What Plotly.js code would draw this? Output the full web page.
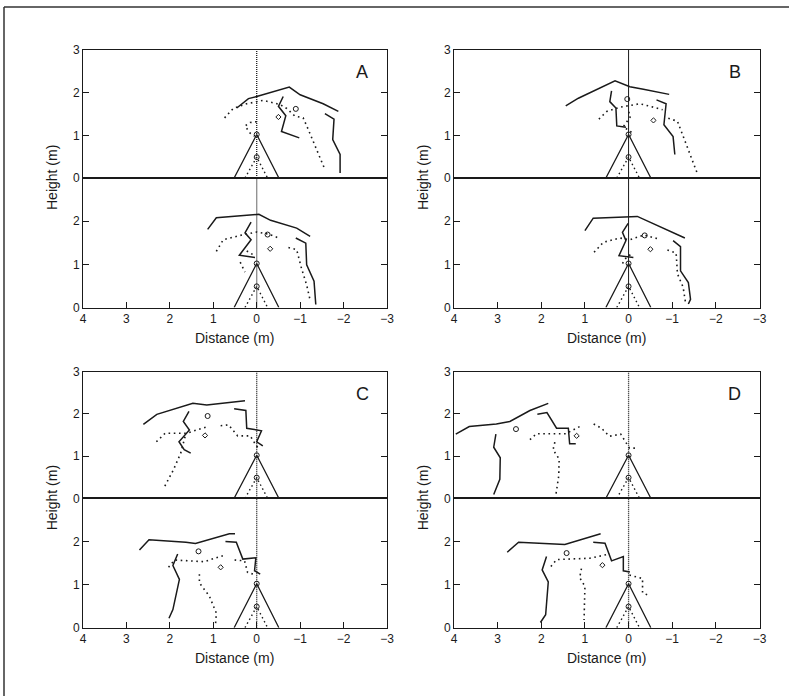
<!DOCTYPE html>
<html>
<head>
<meta charset="utf-8">
<script src="https://cdn.plot.ly/plotly-3.0.1.min.js"></script>
<style>html,body{margin:0;padding:0;background:#fff;}#chart{width:789px;height:696px;}</style>
</head>
<body>
<div id="chart"></div>
<script>
// ---------- data ----------
const xTickVals = [4, 3, 2, 1, 0, -1, -2, -3];
const xTickText = ['4', '3', '2', '1', '0', '\u22121', '\u22122', '\u22123'];
const yTickValsTop = [0, 1, 2, 3];
const yTickValsBottom = [0, 1, 2];
const panelLetters = ['A', 'B', 'C', 'D'];

// body outline (solid triangle) and inner dotted triangle, head markers
const triangleX = [0.52, 0, -0.51];
const triangleY = [0, 1.02, 0];
const innerX = [0.27, 0, -0.25];
const innerY = [0, 0.49, 0];
const headX = [0, 0];
const headY = [0.49, 1.02];
const centreX = [0, 0];
const centreY = [0, 3];

// each curve: [xs, ys]
const A1_solid = [
  [[0.46, 0.19, 0, -0.75, -1.0, -1.53, -1.88], [1.64, 1.86, 1.91, 2.13, 1.95, 1.74, 1.56]],
  [[-1.57, -1.78, -1.75, -1.92, -1.92], [1.51, 1.38, 0.90, 0.55, 0.12]],
  [[-0.61, -0.50, -0.67, -0.57, -0.98], [1.91, 1.68, 1.46, 1.09, 0.94]]
];
const A1_dotted = [
  [[0.74, 0.54, 0.23, -0.15, -0.54, -0.69, -0.88, -1.07, -1.19, -1.38, -1.57], [1.41, 1.63, 1.74, 1.82, 1.72, 1.63, 1.45, 1.41, 1.13, 0.66, 0.20]],
  [[0.0, 0.15, 0.27, 0.15, 0.05], [1.32, 1.30, 1.22, 1.05, 0.98]]
];
const A1_marks = [[-0.90, 1.62], [-0.50, 1.43]];

const A2_solid = [
  [[1.13, 0.93, -0.05, -0.32, -0.92, -1.23], [1.81, 2.08, 2.16, 2.02, 1.84, 1.65]],
  [[-0.90, -1.13, -1.15, -1.32, -1.36], [1.61, 1.49, 0.99, 0.61, 0.07]],
  [[0.13, 0.27, 0.13, 0.40, 0.04], [1.98, 1.73, 1.57, 1.21, 1.16]]
];
const A2_dotted = [
  [[0.93, 0.77, 0.38, 0, -0.27, -0.48], [1.30, 1.57, 1.67, 1.75, 1.70, 1.62]],
  [[-0.73, -0.92, -1.03, -1.15, -1.23], [1.39, 1.34, 0.91, 0.52, 0.17]],
  [[0.23, 0.08], [1.31, 1.22]],
  [[0.38, 0.27], [1.05, 0.82]]
];
const A2_marks = [[-0.25, 1.69], [-0.31, 1.36]];

const B1_solid = [
  [[1.44, 1.15, 0.31, -0.03, -0.34, -0.93], [1.69, 1.87, 2.28, 2.14, 2.08, 1.96]],
  [[0.39, 0.43, 0.29, 0.27, 0.06], [2.04, 1.79, 1.64, 1.22, 1.19]],
  [[-0.64, -0.86, -0.81, -1.02, -1.06], [1.83, 1.74, 1.25, 0.97, 0.55]]
];
const B1_dotted = [
  [[0.68, 0.50, 0.20, -0.26, -0.57, -0.78], [1.38, 1.56, 1.66, 1.74, 1.66, 1.60]],
  [[-0.91, -1.12, -1.31, -1.57], [1.40, 1.33, 0.82, 0.12]],
  [[0.0, -0.05, 0.12, 0.0, -0.10], [1.55, 1.45, 1.20, 1.12, 1.05]]
];
const B1_marks = [[0.03, 1.85], [-0.57, 1.35]];

const B2_solid = [
  [[1.0, 0.81, -0.2, -1.29], [1.78, 2.07, 2.11, 1.61]],
  [[-1.02, -1.19, -1.19, -1.37, -1.42, -1.37], [1.55, 1.41, 0.85, 0.58, 0.19, 0.08]],
  [[0.01, 0.14, 0.06, 0.22, -0.11], [1.95, 1.74, 1.55, 1.20, 1.16]]
];
const B2_dotted = [
  [[0.79, 0.58, 0.2, -0.03, -0.35, -0.68], [1.28, 1.51, 1.61, 1.57, 1.68, 1.59]],
  [[-0.89, -1.09, -1.12, -1.25, -1.31], [1.33, 1.26, 0.78, 0.47, 0.08]],
  [[0.14, 0.05, -0.07], [1.02, 1.16, 1.24]]
];
const B2_marks = [[-0.37, 1.67], [-0.50, 1.35]];

const C1_solid = [
  [[2.61, 2.30, 1.47, 1.15, 0.27], [1.75, 1.99, 2.25, 2.21, 2.31]],
  [[1.56, 1.69, 1.55, 1.79, 1.67, 1.52], [2.06, 1.82, 1.62, 1.34, 1.15, 1.07]],
  [[0.52, 0.25, 0.23, -0.11, 0, -0.14], [2.12, 2.08, 1.66, 1.60, 1.34, 1.24]]
];
const C1_dotted = [
  [[2.31, 2.11, 1.62, 1.13], [1.34, 1.54, 1.54, 1.70]],
  [[1.65, 1.75, 1.92, 2.13], [1.46, 1.07, 0.67, 0.26]],
  [[0.83, 0.65, 0.44, 0.15, 0, -0.08], [1.72, 1.74, 1.48, 1.48, 1.23, 1.19]]
];
const C1_marks = [[1.13, 1.95], [1.19, 1.49]];

const C2_solid = [
  [[2.70, 2.48, 1.63, 1.41, 0.63, 0.50], [1.80, 2.04, 1.98, 1.95, 2.18, 2.18]],
  [[1.82, 1.93, 1.78, 1.93, 2.02], [1.71, 1.44, 1.12, 0.42, 0.22]],
  [[0.72, 0.47, 0.32, 0.02, 0.05, -0.08], [2.0, 1.98, 1.59, 1.62, 1.32, 1.24]]
];
const C2_dotted = [
  [[2.03, 1.89, 1.21, 0.78], [1.40, 1.57, 1.53, 1.67]],
  [[1.32, 1.32, 1.09, 0.93, 0.95], [1.24, 1.04, 0.73, 0.34, 0.06]],
  [[0.51, 0.28, 0.21, 0.08], [1.57, 1.55, 1.28, 1.24]]
];
const C2_marks = [[1.34, 1.77], [0.83, 1.40]];

const D1_solid = [
  [[3.96, 3.65, 3.03, 2.72, 2.26, 1.84], [1.52, 1.70, 1.76, 1.82, 2.08, 2.25]],
  [[3.04, 3.09, 2.94, 2.95, 3.09], [1.52, 1.21, 0.96, 0.45, 0.09]],
  [[2.09, 1.87, 1.65, 1.38, 1.35, 1.21], [1.99, 2.03, 1.66, 1.66, 1.29, 1.29]]
];
const D1_dotted = [
  [[2.26, 2.11, 1.44, 1.12], [1.39, 1.53, 1.53, 1.70]],
  [[1.69, 1.73, 1.59, 1.60, 1.67], [1.33, 1.15, 0.93, 0.53, 0.05]],
  [[0.80, 0.62, 0.44, 0.18, -0.02, -0.18], [1.76, 1.66, 1.47, 1.52, 1.19, 1.19]]
];
const D1_marks = [[2.58, 1.64], [1.19, 1.48]];

const D2_solid = [
  [[2.78, 2.52, 1.46, 0.64], [1.75, 1.98, 1.93, 2.18]],
  [[1.88, 1.98, 1.84, 1.90, 2.02], [1.65, 1.34, 1.06, 0.30, 0.12]],
  [[0.81, 0.54, 0.39, 0.12, 0.12, -0.03], [1.98, 1.96, 1.55, 1.65, 1.32, 1.29]]
];
const D2_dotted = [
  [[1.78, 1.65, 0.89, 0.43], [1.42, 1.58, 1.61, 1.71]],
  [[1.08, 1.12, 1.0, 1.02], [1.37, 1.16, 0.96, 0.18]],
  [[-0.02, -0.32, -0.32, -0.50], [1.22, 1.14, 0.81, 0.73]]
];
const D2_marks = [[1.42, 1.73], [0.60, 1.45]];

// ---------- layout helpers ----------
const W = 789, H = 696;
const panelsX = [[83, 387], [454, 759.5], [83, 387], [454, 759.5]];
const panelsY = [[50, 178, 307.5], [50, 178, 307.5], [371.7, 498.3, 627.7], [371.7, 498.3, 627.7]];
const centreSolid = [false, true, false, false];

const subplots = [
  [A1_solid, A1_dotted, A1_marks], [A2_solid, A2_dotted, A2_marks],
  [B1_solid, B1_dotted, B1_marks], [B2_solid, B2_dotted, B2_marks],
  [C1_solid, C1_dotted, C1_marks], [C2_solid, C2_dotted, C2_marks],
  [D1_solid, D1_dotted, D1_marks], [D2_solid, D2_dotted, D2_marks]
];

function joinCurves(curves) {
  const xs = [], ys = [];
  curves.forEach((c, i) => {
    if (i > 0) { xs.push(null); ys.push(null); }
    xs.push(...c[0]); ys.push(...c[1]);
  });
  return [xs, ys];
}

const ink = '#1a1a1a';
const fontFam = 'Liberation Sans, Arial, sans-serif';
const traces = [];
const layout = {
  width: W, height: H,
  margin: {l: 0, r: 0, t: 0, b: 0},
  paper_bgcolor: '#fff', plot_bgcolor: 'rgba(0,0,0,0)',
  showlegend: false,
  font: {family: fontFam, size: 12, color: ink},
  annotations: [], shapes: []
};

for (let k = 0; k < 8; k++) {
  const p = Math.floor(k / 2);
  const isTop = (k % 2 === 0);
  const id = k + 1;
  const xa = 'x' + id, ya = 'y' + id;
  const xKey = 'xaxis' + id, yKey = 'yaxis' + id;
  const px = panelsX[p], py = panelsY[p];
  const top = isTop ? py[0] : py[1];
  const bot = isTop ? py[1] : py[2];
  layout[xKey] = {
    domain: [px[0] / W, px[1] / W], range: [4, -3], anchor: ya,
    showgrid: false, zeroline: false, showline: true, mirror: true,
    linecolor: ink, linewidth: 1,
    tickvals: xTickVals, ticktext: xTickText,
    ticks: isTop ? '' : 'inside', ticklen: 6, tickwidth: 1, tickcolor: ink,
    showticklabels: !isTop,
    tickfont: {family: fontFam, size: 12, color: ink},
    fixedrange: true
  };
  layout[yKey] = {
    domain: [1 - bot / H, 1 - top / H], range: [0, 3], anchor: xa,
    showgrid: false, zeroline: false, showline: true, mirror: 'ticks',
    linecolor: ink, linewidth: 1,
    tickvals: isTop ? yTickValsTop : yTickValsBottom,
    ticks: 'inside', ticklen: 6, tickwidth: 1, tickcolor: ink,
    tickfont: {family: fontFam, size: 12, color: ink},
    fixedrange: true
  };

  // centre line
  traces.push({x: centreX, y: centreY, xaxis: xa, yaxis: ya, mode: 'lines', hoverinfo: 'skip',
    line: {color: ink, width: centreSolid[p] ? 1 : 1.3, dash: centreSolid[p] ? 'solid' : '1px,1px'}});
  // triangle
  traces.push({x: triangleX, y: triangleY, xaxis: xa, yaxis: ya, mode: 'lines', hoverinfo: 'skip',
    line: {color: ink, width: 1.3}});
  traces.push({x: innerX, y: innerY, xaxis: xa, yaxis: ya, mode: 'lines', hoverinfo: 'skip',
    line: {color: ink, width: 1.4, dash: '1.5px,3px'}});
  traces.push({x: headX, y: headY, xaxis: xa, yaxis: ya, mode: 'markers', hoverinfo: 'skip',
    marker: {symbol: 'circle-open', size: 5, color: ink, line: {width: 1, color: ink}}});

  const [sol, dot, marks] = subplots[k];
  const s = joinCurves(sol);
  traces.push({x: s[0], y: s[1], xaxis: xa, yaxis: ya, mode: 'lines', connectgaps: false, hoverinfo: 'skip',
    line: {color: ink, width: 1.5}});
  const d = joinCurves(dot);
  traces.push({x: d[0], y: d[1], xaxis: xa, yaxis: ya, mode: 'lines', connectgaps: false, hoverinfo: 'skip',
    line: {color: ink, width: 1.6, dash: '1.6px,3.6px'}});
  traces.push({x: [marks[0][0]], y: [marks[0][1]], xaxis: xa, yaxis: ya, mode: 'markers', hoverinfo: 'skip',
    marker: {symbol: 'circle-open', size: 5, color: ink, line: {width: 1, color: ink}}});
  traces.push({x: [marks[1][0]], y: [marks[1][1]], xaxis: xa, yaxis: ya, mode: 'markers', hoverinfo: 'skip',
    marker: {symbol: 'diamond-open', size: 4, color: ink, line: {width: 1, color: ink}}});

  if (isTop) {
    layout.annotations.push({text: panelLetters[p], xref: 'paper', yref: 'paper',
      x: (px[1] - 25) / W, y: 1 - (top + 22) / H, showarrow: false,
      font: {size: 18, color: ink}, xanchor: 'center', yanchor: 'middle'});
    layout.annotations.push({text: 'Height (m)', xref: 'paper', yref: 'paper',
      x: (px[0] - 31) / W, y: 1 - py[1] / H, showarrow: false, textangle: -90,
      font: {size: 14, color: ink}, xanchor: 'center', yanchor: 'middle'});
  } else {
    layout.annotations.push({text: 'Distance (m)', xref: 'paper', yref: 'paper',
      x: (px[0] + px[1]) / 2 / W, y: 1 - (bot + 30) / H, showarrow: false,
      font: {size: 14, color: ink}, xanchor: 'center', yanchor: 'middle'});
  }
}

// outer frame of the figure
layout.shapes.push({type: 'line', xref: 'paper', yref: 'paper', x0: 4 / W, x1: 1.01, y0: 1 - 7 / H, y1: 1 - 7 / H,
  line: {color: '#333', width: 1.5}});
layout.shapes.push({type: 'line', xref: 'paper', yref: 'paper', x0: 4 / W, x1: 4 / W, y0: -0.01, y1: 1 - 7 / H,
  line: {color: '#333', width: 1.5}});

Plotly.newPlot('chart', traces, layout, {staticPlot: true, displayModeBar: false});
</script>
</body>
</html>
